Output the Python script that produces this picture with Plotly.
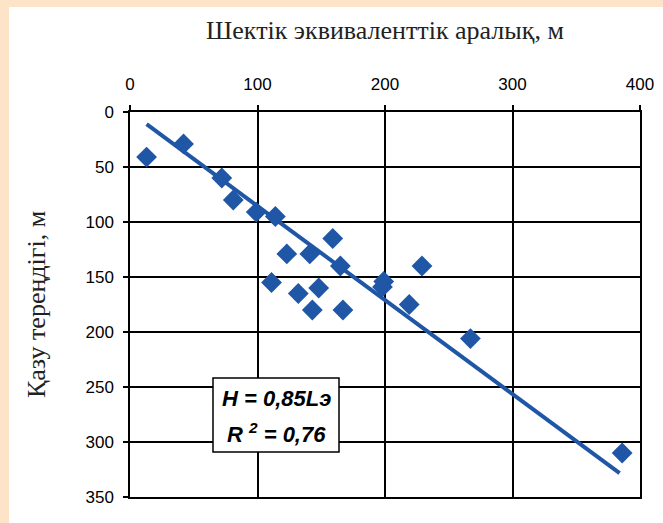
import plotly.graph_objects as go

# Data
spacing_m = [13, 42, 72, 81, 99, 114, 123, 111, 132, 141, 143, 148, 159, 165, 167, 199, 198, 229, 219, 267, 386]
depth_m = [41, 29, 60, 80, 91, 95, 129, 155, 165, 129, 180, 160, 115, 140, 180, 154, 159, 140, 175, 206, 310]
trend_x = [13, 384]
slope = 0.855
trend_y = [slope * v for v in trend_x]

x_ticks = [0, 100, 200, 300, 400]
y_ticks = [0, 50, 100, 150, 200, 250, 300, 350]

blue = "#1F56A6"
peach = "#FDE4C8"

fig = go.Figure()
fig.add_trace(go.Scatter(x=trend_x, y=trend_y, mode="lines",
                         line=dict(color=blue, width=4), showlegend=False, hoverinfo="skip"))
fig.add_trace(go.Scatter(x=spacing_m, y=depth_m, mode="markers",
                         marker=dict(symbol="diamond", size=16, color=blue, line=dict(width=0)),
                         showlegend=False))

W, H = 663, 523
L, R, T, B = 130, 23, 112, 26
pw, ph = W - L - R, H - T - B

def px(xp):
    return (xp - L) / pw

def py(yp):
    return (H - B - yp) / ph

# white page with a peach strip on the top and left edges
fig.add_shape(type="rect", xref="paper", yref="paper", layer="below",
              x0=px(9), x1=px(W + 5), y0=py(H + 5), y1=py(7),
              fillcolor="white", line=dict(width=0))

# equation box
fig.add_shape(type="rect", xref="paper", yref="paper", layer="above",
              x0=px(213), x1=px(339), y0=py(452), y1=py(378),
              fillcolor="white", line=dict(color="black", width=1.5))
eq_font = dict(family="Liberation Sans, Arial", size=22, color="black")
fig.add_annotation(xref="paper", yref="paper", x=px(276), y=py(398),
                   xanchor="center", yanchor="middle",
                   text="<b><i>H = 0,85Lэ</i></b>", showarrow=False, font=eq_font)
fig.add_annotation(xref="paper", yref="paper", x=px(276), y=py(433),
                   xanchor="center", yanchor="middle",
                   text="<b><i>R <sup>2</sup> = 0,76</i></b>", showarrow=False, font=eq_font)

tick_font = dict(family="Liberation Sans, Arial", size=17, color="black")
title_font = dict(family="Liberation Serif, Times New Roman", size=26, color="#222")

fig.update_layout(
    width=W, height=H,
    margin=dict(l=L, r=R, t=T, b=B, autoexpand=False),
    paper_bgcolor=peach, plot_bgcolor="white",
    xaxis=dict(side="top", range=[0, 400], tickvals=x_ticks, ticktext=[str(v) for v in x_ticks],
               showgrid=True, gridcolor="black", gridwidth=1.5, zeroline=False,
               showline=True, mirror=True, linecolor="black", linewidth=1.5,
               ticks="outside", ticklen=5, tickcolor="black", tickwidth=1.5,
               ticklabelstandoff=8, tickfont=tick_font,
               title=dict(text="Шектік эквиваленттік аралық, м", standoff=28, font=title_font)),
    yaxis=dict(range=[350, 0], tickvals=y_ticks, ticktext=[str(v) for v in y_ticks],
               showgrid=True, gridcolor="black", gridwidth=1.5, zeroline=False,
               showline=True, mirror=True, linecolor="black", linewidth=1.5,
               ticks="outside", ticklen=5, tickcolor="black", tickwidth=1.5,
               ticklabelstandoff=6, tickfont=tick_font,
               title=dict(text="Қазу тереңдігі, м", standoff=32, font=title_font)),
)

fig.write_html("out.html", config={"displayModeBar": False},
               post_script="document.body.style.margin='0';document.body.style.overflow='hidden';")
